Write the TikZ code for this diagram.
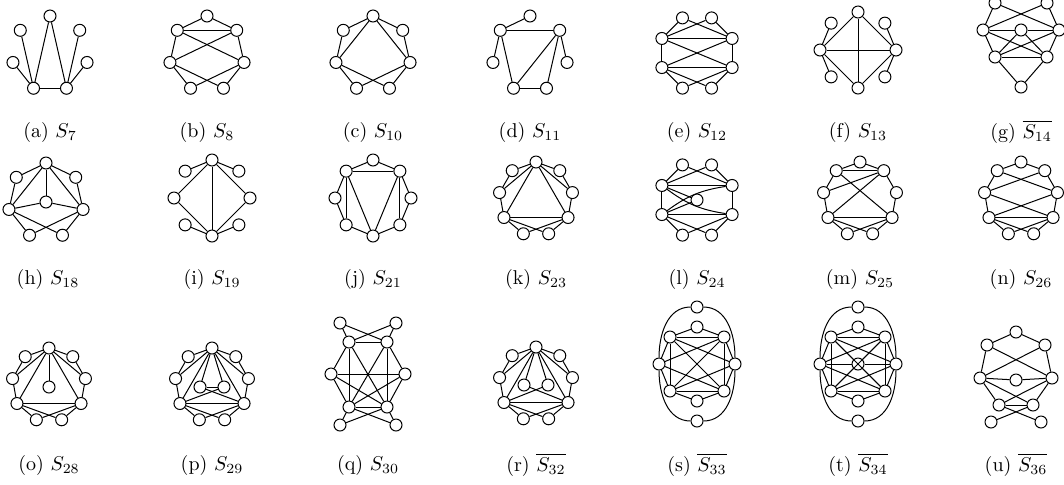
\documentclass[tikz,border=0pt]{standalone}
\usetikzlibrary{positioning}
\begin{document}
\begin{tikzpicture}[x=0.5pt,y=0.5pt,
  vtx/.style={circle, draw, inner sep=0pt, minimum size=6pt, line width=0.5pt},
  edg/.style={line width=0.5pt},
  subcap/.style={font=\normalsize},
]
\useasboundingbox (0,0) rectangle (1064,-484);

% vertex places, 1 on top, counter-clockwise
\def\hepta{1/90,2/141.43,3/192.86,4/244.29,5/295.71,6/347.14,7/38.57}
\def\octa{1/112.5,2/157.5,3/202.5,4/247.5,5/292.5,6/337.5,7/22.5,8/67.5}
\def\octb{t/90,ul/135,l/180,ll/225,b/270,lr/315,r/0,ur/45}
\def\nona{1/90,2/130,3/170,4/210,5/250,6/290,7/330,8/10,9/50}

% ---------- row 1 ----------
\begin{scope}[shift={(50,-54)}]
  \foreach \n/\ang in \hepta \node[vtx] (a\n) at (\ang:38) {};
  \foreach \u/\v in {4/5,4/1,5/1,4/2,4/3,5/7,5/6} \draw[edg] (a\u) -- (a\v);
\end{scope}
\begin{scope}[shift={(207,-54)}]
  \foreach \n/\ang in \hepta \node[vtx] (b\n) at (\ang:38) {};
  \foreach \u/\v in {1/2,1/7,2/7,2/3,7/6,2/6,7/3,3/4,3/5,6/5,6/4} \draw[edg] (b\u) -- (b\v);
\end{scope}
\begin{scope}[shift={(373,-54)}]
  \foreach \n/\ang in \hepta \node[vtx] (c\n) at (\ang:38) {};
  \foreach \u/\v in {1/2,1/7,1/3,1/6,2/3,7/6,3/4,3/5,6/5,6/4} \draw[edg] (c\u) -- (c\v);
\end{scope}
\begin{scope}[shift={(530,-54)}]
  \foreach \n/\ang in \hepta \node[vtx] (d\n) at (\ang:38) {};
  \foreach \u/\v in {1/2,2/7,2/3,2/4,7/4,7/5,7/6,4/5} \draw[edg] (d\u) -- (d\v);
\end{scope}
\begin{scope}[shift={(697,-53)}]
  \foreach \n/\ang in \octa \node[vtx] (e\n) at (\ang:38) {};
  \foreach \u/\v in {1/2,1/7,8/2,8/7,2/7,2/3,7/6,2/6,7/3,3/6,3/4,3/5,6/4,6/5} \draw[edg] (e\u) -- (e\v);
\end{scope}
\begin{scope}[shift={(858,-50)}]
  \foreach \n/\ang in \octb \node[vtx] (f\n) at (\ang:38) {};
  \foreach \u/\v in {l/t,l/b,l/r,t/b,t/r,b/r,l/ul,l/ll,r/ur,r/lr} \draw[edg] (f\u) -- (f\v);
\end{scope}
\begin{scope}[shift={(1021,-30)}]
  \foreach \n/\p in {tl/{(-26,27)},tr/{(26,27)},l/{(-38,0)},c/{(0,0)},r/{(38,0)},ll/{(-26,-27)},lr/{(26,-27)},b/{(0,-57)}}
    \node[vtx] (g\n) at \p {};
  \foreach \u/\v in {tl/l,tl/r,tr/l,tr/r,l/c,c/r,l/ll,r/lr,c/ll,c/lr,l/lr,r/ll,ll/lr,ll/b,lr/b} \draw[edg] (g\u) -- (g\v);
\end{scope}

\node[subcap] (capa) at (50,-132) {(a) $S_{7}$};
\node[subcap] (capb) at (207,-132) {(b) $S_{8}$};
\node[subcap] (capc) at (373,-132) {(c) $S_{10}$};
\node[subcap] (capd) at (530,-132) {(d) $S_{11}$};
\node[subcap] (cape) at (697,-132) {(e) $S_{12}$};
\node[subcap] (capf) at (858,-132) {(f) $S_{13}$};
\node[subcap] (capg) at (1021,-132) {(g) $\overline{S_{14}}$};

% ---------- row 2 ----------
\begin{scope}[shift={(46,-201)}]
  \foreach \n/\ang in \hepta \node[vtx] (h\n) at (\ang:38) {};
  \node[vtx] (hc) at (0,-1) {};
  \foreach \u/\v in {1/2,1/7,2/3,7/6,1/3,1/6,1/c,3/c,c/6,3/4,3/5,6/4,6/5} \draw[edg] (h\u) -- (h\v);
\end{scope}
\begin{scope}[shift={(212,-198)}]
  \foreach \n/\ang in \octb \node[vtx] (i\n) at (\ang:38) {};
  \foreach \u/\v in {t/ul,t/ur,t/l,t/r,t/b,l/b,r/b,ll/b,lr/b} \draw[edg] (i\u) -- (i\v);
\end{scope}
\begin{scope}[shift={(373,-198)}]
  \foreach \n/\ang in \octb \node[vtx] (j\n) at (\ang:38) {};
  \foreach \u/\v in {t/ul,t/ur,ul/ur,ul/l,ur/r,ul/ll,ur/lr,l/ll,r/lr,ll/b,lr/b,ul/b,ur/b} \draw[edg] (j\u) -- (j\v);
\end{scope}
\begin{scope}[shift={(536,-199)}]
  \foreach \n/\ang in \nona \node[vtx] (k\n) at (\ang:37) {};
  \foreach \u/\v in {1/2,1/9,2/3,9/8,3/4,8/7,4/5,7/6,1/3,1/8,1/4,1/7,4/7,4/6,7/5} \draw[edg] (k\u) -- (k\v);
\end{scope}
\begin{scope}[shift={(697,-200)}]
  \foreach \n/\ang in \octa \node[vtx] (l\n) at (\ang:38) {};
  \node[vtx] (lc) at (0,0) {};
  \foreach \u/\v in {1/2,1/7,8/2,8/7,2/7,2/3,7/6,3/6,3/4,3/5,6/4,6/5,2/c,3/c} \draw[edg] (l\u) -- (l\v);
  \draw[edg] (l2) to[bend right=14] (l6);
  \draw[edg] (l3) to[bend left=14] (l7);
\end{scope}
\begin{scope}[shift={(860,-199)}]
  \foreach \n/\ang in \nona \node[vtx] (m\n) at (\ang:37) {};
  \foreach \u/\v in {1/2,1/9,2/9,2/3,9/8,3/4,8/7,4/7,4/5,7/6,4/6,7/5,2/7,9/4,9/3} \draw[edg] (m\u) -- (m\v);
\end{scope}
\begin{scope}[shift={(1021,-199)}]
  \foreach \n/\ang in \nona \node[vtx] (n\n) at (\ang:37) {};
  \foreach \u/\v in {1/2,1/9,2/3,9/8,2/8,9/3,3/7,8/4,3/4,8/7,4/7,4/5,7/6,4/6,7/5} \draw[edg] (n\u) -- (n\v);
\end{scope}

\node[subcap] (caph) at (48,-279) {(h) $S_{18}$};
\node[subcap] (capi) at (212,-279) {(i) $S_{19}$};
\node[subcap] (capj) at (373,-279) {(j) $S_{21}$};
\node[subcap] (capk) at (536,-279) {(k) $S_{23}$};
\node[subcap] (capl) at (697,-279) {(l) $S_{24}$};
\node[subcap] (capm) at (860,-279) {(m) $S_{25}$};
\node[subcap] (capn) at (1021,-279) {(n) $S_{26}$};

% ---------- row 3 ----------
\begin{scope}[shift={(49,-385)}]
  \foreach \n/\ang in \nona \node[vtx] (o\n) at (\ang:37) {};
  \node[vtx] (oc) at (0,-2) {};
  \foreach \u/\v in {1/2,1/9,2/3,9/8,3/4,8/7,4/5,7/6,1/3,1/8,1/4,1/7,1/c,4/7,4/6,7/5} \draw[edg] (o\u) -- (o\v);
\end{scope}
\begin{scope}[shift={(212,-385)}]
  \foreach \n/\ang in \nona \node[vtx] (p\n) at (\ang:37) {};
  \node[vtx] (pc1) at (-12,-2) {};
  \node[vtx] (pc2) at (12,-2) {};
  \foreach \u/\v in {1/2,1/9,2/3,9/8,3/4,8/7,4/5,7/6,1/3,1/8,1/4,1/7,1/c1,1/c2,c1/c2,4/7,4/6,7/5,4/c2,c1/7} \draw[edg] (p\u) -- (p\v);
\end{scope}
\begin{scope}[shift={(368,-374)}]
  \foreach \n/\p in {tl/{(-28,51)},tr/{(28,51)},ul/{(-19,32)},ur/{(19,32)},l/{(-37,0)},r/{(37,0)},ll/{(-19,-33)},lr/{(19,-33)},bl/{(-28,-51)},br/{(28,-51)}}
    \node[vtx] (q\n) at \p {};
  \foreach \u/\v in {tl/ul,tl/ur,tr/ul,tr/ur,ul/ur,ul/l,ur/r,l/r,ul/ll,ur/lr,ul/lr,ur/ll,l/ll,r/lr,l/lr,r/ll,ll/lr,ll/bl,lr/br,ll/br,lr/bl} \draw[edg] (q\u) -- (q\v);
\end{scope}
\begin{scope}[shift={(536,-384)}]
  \foreach \n/\ang in \nona \node[vtx] (r\n) at (\ang:37) {};
  \node[vtx] (rc1) at (-12,-1) {};
  \node[vtx] (rc2) at (12,-1) {};
  \foreach \u/\v in {1/2,1/9,2/3,9/8,3/4,8/7,4/5,7/6,1/3,1/8,1/4,1/7,1/c1,1/c2,4/7,4/6,7/5,4/c2,c1/7} \draw[edg] (r\u) -- (r\v);
\end{scope}
\begin{scope}[shift={(697,-364)}]
  \foreach \n/\p in {t/{(0,57)},tt/{(0,37)},ul/{(-27,27)},ur/{(27,27)},l/{(-38,0)},r/{(38,0)},ll/{(-27,-27)},lr/{(27,-27)},bb/{(0,-37)},b/{(0,-57)}}
    \node[vtx] (s\n) at \p {};
  \foreach \u/\v in {tt/ul,tt/ur,ul/ur,ul/l,ur/r,l/ll,r/lr,ll/lr,ll/bb,lr/bb,ul/ll,ur/lr,ul/lr,ur/ll,l/ur,r/ul,l/lr,r/ll} \draw[edg] (s\u) -- (s\v);
  \draw[edg] (st) to[out=180,in=90] (sl);
  \draw[edg] (st) to[out=0,in=90] (sr);
  \draw[edg] (sb) to[out=180,in=-90] (sl);
  \draw[edg] (sb) to[out=0,in=-90] (sr);
\end{scope}
\begin{scope}[shift={(858,-364)}]
  \foreach \n/\p in {t/{(0,57)},tt/{(0,37)},ul/{(-27,27)},ur/{(27,27)},l/{(-38,0)},c/{(0,0)},r/{(38,0)},ll/{(-27,-27)},lr/{(27,-27)},bb/{(0,-37)},b/{(0,-57)}}
    \node[vtx] (t\n) at \p {};
  \foreach \u/\v in {tt/ul,tt/ur,ul/ur,ul/l,ur/r,l/ll,r/lr,ll/lr,ll/bb,lr/bb,ul/ll,ur/lr,ul/lr,ur/ll,l/c,c/r,ul/c,ur/c,ll/c,lr/c,l/ur,r/ul,l/lr,r/ll} \draw[edg] (t\u) -- (t\v);
  \draw[edg] (tt) to[out=180,in=90] (tl);
  \draw[edg] (tt) to[out=0,in=90] (tr);
  \draw[edg] (tb) to[out=180,in=-90] (tl);
  \draw[edg] (tb) to[out=0,in=-90] (tr);
\end{scope}
\begin{scope}[shift={(1016,-378)}]
  \foreach \n/\p in {t/{(0,46)},ul/{(-29,33)},ur/{(29,33)},l/{(-36,0)},c/{(0,-2)},r/{(36,0)},ml/{(-17,-27)},mr/{(17,-27)},bl/{(-25,-44)},br/{(25,-44)}}
    \node[vtx] (u\n) at \p {};
  \foreach \u/\v in {t/ul,t/ur,ul/l,ur/r,ul/r,ur/l,l/c,c/r,l/ml,r/mr,l/mr,r/ml,ml/mr,ml/br,mr/bl} \draw[edg] (u\u) -- (u\v);
\end{scope}

\node[subcap] (capo) at (49,-465) {(o) $S_{28}$};
\node[subcap] (capp) at (212,-465) {(p) $S_{29}$};
\node[subcap] (capq) at (368,-465) {(q) $S_{30}$};
\node[subcap] (capr) at (536,-465) {(r) $\overline{S_{32}}$};
\node[subcap] (caps) at (697,-465) {(s) $\overline{S_{33}}$};
\node[subcap] (capt) at (858,-465) {(t) $\overline{S_{34}}$};
\node[subcap] (capu) at (1016,-465) {(u) $\overline{S_{36}}$};
\end{tikzpicture}
\end{document}
